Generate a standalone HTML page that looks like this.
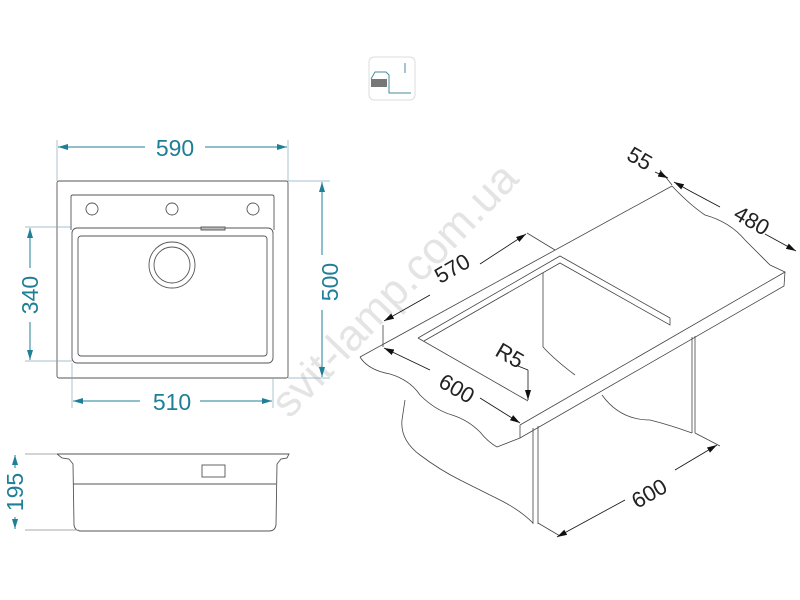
<!DOCTYPE html>
<html><head><meta charset="utf-8"><style>
html,body{margin:0;padding:0;background:#fff;}
svg{display:block;}
.t{font-family:"Liberation Sans",sans-serif;font-size:23px;fill:#1e7f96;}
.k{font-family:"Liberation Sans",sans-serif;font-size:22px;fill:#222;}
</style></head><body>
<svg width="800" height="600" viewBox="0 0 800 600" xmlns="http://www.w3.org/2000/svg">
<defs>
<marker id="at" markerWidth="10" markerHeight="6" refX="10" refY="3" orient="auto" markerUnits="userSpaceOnUse"><path d="M0,0 L10,3 L0,6z" fill="#1e7f96"/></marker>
<marker id="as" markerWidth="10" markerHeight="6" refX="0" refY="3" orient="auto" markerUnits="userSpaceOnUse"><path d="M10,0 L0,3 L10,6z" fill="#1e7f96"/></marker>
<marker id="bt" markerWidth="10" markerHeight="6" refX="10" refY="3" orient="auto" markerUnits="userSpaceOnUse"><path d="M0,0 L10,3 L0,6z" fill="#111"/></marker>
<marker id="bs" markerWidth="10" markerHeight="6" refX="0" refY="3" orient="auto" markerUnits="userSpaceOnUse"><path d="M10,0 L0,3 L10,6z" fill="#111"/></marker>
</defs>

<text x="405" y="300" transform="rotate(-46 405 300)" text-anchor="middle" font-family="Liberation Sans,sans-serif" font-size="44" fill="#e4e4e4">svit-lamp.com.ua</text>

<rect x="369" y="57" width="46" height="43" rx="5" fill="#fff" stroke="#ddd"/>
<rect x="371" y="79" width="16" height="8" fill="#777"/>
<path d="M371,79 L375,72 L386,72 L389,75 L389,93 L411,93" fill="none" stroke="#4a8aa0" stroke-width="1"/>
<line x1="405" y1="63" x2="405" y2="73" stroke="#4a8aa0"/>

<g fill="none" stroke="#555" stroke-width="0.9">
<rect x="57" y="181" width="231" height="197" rx="2"/>
<path d="M71,230 L71,197 Q71,195 73,195 L272,195 Q274,195 274,197 L274,230"/>
<rect x="72" y="228" width="201" height="135" rx="5"/>
<rect x="78" y="236" width="189" height="120" rx="3"/>
<circle cx="92" cy="209" r="6"/><circle cx="172" cy="209" r="6"/><circle cx="253" cy="209" r="6"/>
<circle cx="172" cy="265" r="23"/><circle cx="172" cy="265" r="18"/>
<rect x="201" y="227" width="24" height="3" fill="#bbb"/>
</g>
<g stroke="#8ab" stroke-width="0.7">
<line x1="57" y1="140" x2="57" y2="181"/><line x1="288" y1="140" x2="288" y2="181"/>
<line x1="288" y1="181" x2="330" y2="181"/><line x1="288" y1="378" x2="330" y2="378"/>
<line x1="25" y1="227" x2="72" y2="227"/><line x1="25" y1="361" x2="72" y2="361"/>
<line x1="72" y1="363" x2="72" y2="408"/><line x1="273" y1="378" x2="273" y2="408"/>
</g>
<g stroke="#1e7f96" stroke-width="1">
<line x1="58" y1="147" x2="145" y2="147" marker-start="url(#as)"/><line x1="205" y1="147" x2="287" y2="147" marker-end="url(#at)"/>
<line x1="322" y1="182" x2="322" y2="255" marker-start="url(#as)"/><line x1="322" y1="310" x2="322" y2="377" marker-end="url(#at)"/>
<line x1="30" y1="228" x2="30" y2="268" marker-start="url(#as)"/><line x1="30" y1="322" x2="30" y2="360" marker-end="url(#at)"/>
<line x1="73" y1="401" x2="140" y2="401" marker-start="url(#as)"/><line x1="200" y1="401" x2="272" y2="401" marker-end="url(#at)"/>
<line x1="15" y1="455" x2="15" y2="468" marker-start="url(#as)"/><line x1="15" y1="517" x2="15" y2="529" marker-end="url(#at)"/>
</g>
<text class="t" x="175" y="156" text-anchor="middle">590</text>
<text class="t" x="172" y="410" text-anchor="middle">510</text>
<text class="t" transform="translate(338 282) rotate(-90)" text-anchor="middle">500</text>
<text class="t" transform="translate(38 295) rotate(-90)" text-anchor="middle">340</text>
<text class="t" transform="translate(23 492) rotate(-90)" text-anchor="middle">195</text>

<g fill="none" stroke="#555" stroke-width="0.9">
<path d="M57,454 L289,454 L287,458 L281,459 L277,464 L276,525 Q275,531 269,531 L81,531 Q75,531 74,525 L73,464 L69,459 L62,458 Z"/>
<line x1="73" y1="484" x2="276" y2="484"/>
<rect x="202" y="465" width="23" height="12"/>
<line x1="25" y1="454" x2="57" y2="454" stroke="#aaa"/><line x1="25" y1="530" x2="79" y2="530" stroke="#aaa"/>
</g>

<!-- isometric -->
<g fill="none" stroke="#444" stroke-width="0.8">
<path d="M360,357 L672,186"/>
<path d="M672,186 Q690,205 705,215 Q730,222 745,240 Q760,255 770,265 L785,272 L784,286 L520,438 L497,447"/>
<path d="M520,425 L785,272"/>
<line x1="520" y1="425" x2="520" y2="438"/>
<path d="M360,357 Q368,370 390,374 Q410,380 420,395 Q435,410 452,415 Q468,420 480,432 Q488,442 497,447"/>
<path d="M418,338 L560,256 L670,318 L670,325 L560,263 L424,341"/>
<path d="M418,338 L528,401"/>
<line x1="543" y1="273" x2="543" y2="347"/><path d="M543,347 Q555,360 575,375"/>
<path d="M405,400 L402,420 Q400,440 420,455 Q440,470 460,480 Q480,490 500,500 Q520,510 533,523"/>
<line x1="533" y1="428" x2="533" y2="524"/><line x1="538" y1="426" x2="538" y2="524"/>
<line x1="692" y1="337" x2="692" y2="433"/><line x1="695" y1="336" x2="695" y2="433"/>
<path d="M602,395 Q620,420 650,420 Q670,425 692,433"/>
<line x1="538" y1="523" x2="560" y2="536"/><line x1="695" y1="433" x2="720" y2="446"/>
<line x1="383" y1="325" x2="383" y2="347"/><line x1="527" y1="233" x2="555" y2="250"/>
<line x1="660" y1="170" x2="672" y2="185"/>
</g>
<g stroke="#111" stroke-width="0.8">
<line x1="384" y1="321" x2="430" y2="295" marker-start="url(#bs)"/><line x1="480" y1="264" x2="526" y2="234" marker-end="url(#bt)"/>
<line x1="384" y1="348" x2="430" y2="370" marker-start="url(#bs)"/><line x1="480" y1="398" x2="520" y2="423" marker-end="url(#bt)"/>
<line x1="528" y1="370" x2="528" y2="400" marker-end="url(#bt)"/>
<line x1="518" y1="366" x2="528" y2="370"/>
<line x1="655" y1="172" x2="668" y2="178" marker-end="url(#bt)"/>
<line x1="674" y1="182" x2="690" y2="191" marker-start="url(#bs)"/><line x1="690" y1="191" x2="720" y2="207"/>
<line x1="765" y1="234" x2="796" y2="251" marker-end="url(#bt)"/>
<line x1="557" y1="537" x2="625" y2="500" marker-start="url(#bs)"/><line x1="675" y1="470" x2="717" y2="445" marker-end="url(#bt)"/>
</g>
<text class="k" transform="translate(456 275) rotate(-30)" text-anchor="middle">570</text>
<text class="k" transform="translate(453 395) rotate(30)" text-anchor="middle">600</text>
<text class="k" transform="translate(506 362) rotate(30)" text-anchor="middle">R5</text>
<text class="k" transform="translate(636 165) rotate(30)" text-anchor="middle">55</text>
<text class="k" transform="translate(748 227) rotate(30)" text-anchor="middle">480</text>
<text class="k" transform="translate(653 500) rotate(-30)" text-anchor="middle">600</text>
</svg>
</body></html>
